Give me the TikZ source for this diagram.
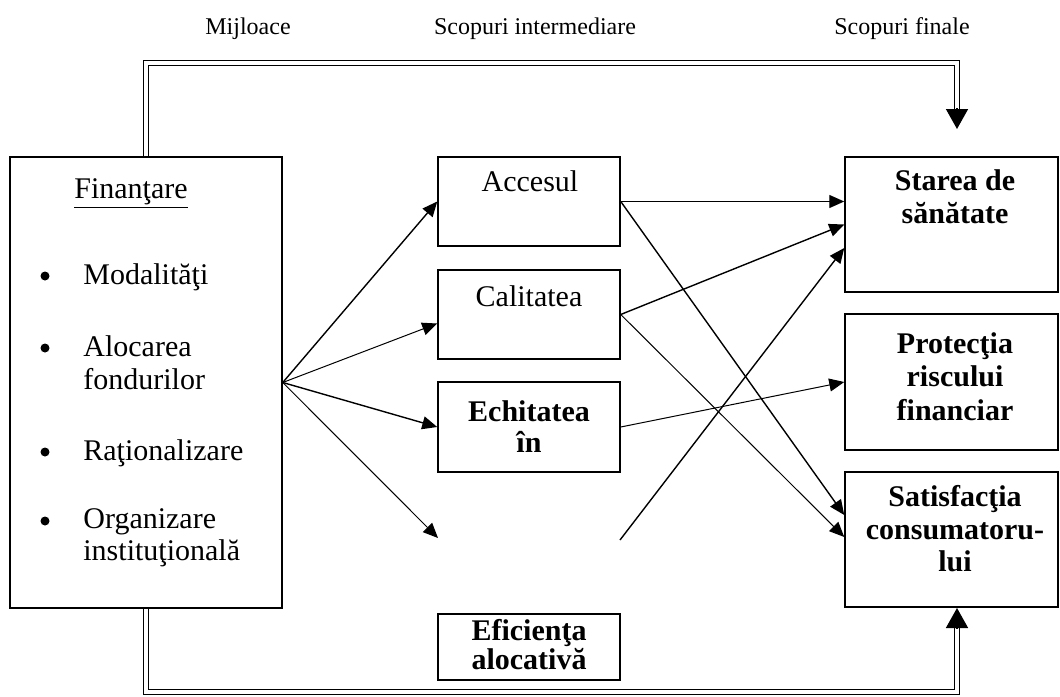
\documentclass[tikz,border=0pt]{standalone}
\usepackage{fontspec}
\setmainfont{Liberation Serif}
\usetikzlibrary{arrows.meta,calc}
\begin{document}
\begin{tikzpicture}[x=0.5pt,y=-0.5pt,line join=miter,
	font=\fontsize{15}{16.5}\selectfont,
	>={Triangle[length=7.5pt,width=6.5pt]},
	box/.style={draw,line width=0.75pt,inner sep=0pt},
	txt/.style={align=center,inner sep=0pt},
	head/.style={txt,anchor=base,font=\fontsize{12}{14}\selectfont},
	flow/.style={->,line width=0.7pt},
	dbl/.style={double,double distance=1.6pt,line width=0.75pt},
	bigtip/.style={-{Triangle[length=10pt,width=11pt]},line width=0.75pt}]
	\useasboundingbox (0,0) rectangle (1060,696);
	% titles
	\node[head] (tmij) at (248,34) {Mijloace};
	\node[head] (tint) at (535,34) {Scopuri intermediare};
	\node[head] (tfin) at (902,34) {Scopuri finale};
	% boxes
	\node[box,minimum width=136pt,minimum height=225.5pt] (fin) at (146,382.5) {};
	\node[box,minimum width=91pt,minimum height=44.5pt] (acc) at (529,201.5) {};
	\node[box,minimum width=91pt,minimum height=44.5pt] (cal) at (529,314.5) {};
	\node[box,minimum width=91pt,minimum height=45pt] (ech) at (529,427) {};
	\node[box,minimum width=91pt,minimum height=33pt] (efi) at (529,647) {};
	\node[box,minimum width=106.5pt,minimum height=67.5pt] (star) at (951.5,224.5) {};
	\node[box,minimum width=106.5pt,minimum height=68pt] (prot) at (951.5,382) {};
	\node[box,minimum width=106.5pt,minimum height=67.5pt] (sat) at (951.5,539.5) {};
	% texts
	\node[txt,anchor=base] (fintxt) at (131,198) {\underline{Finanţare}};
	\node[txt,anchor=north west,align=left] (b1) at (83,263) {Modalităţi};
	\node[txt,anchor=north west,align=left] (b2) at (83,335) {Alocarea\\fondurilor};
	\node[txt,anchor=north west,align=left] (b3) at (83,439) {Raţionalizare};
	\node[txt,anchor=north west,align=left,font=\fontsize{15}{16}\selectfont] (b4) at (83,508) {Organizare\\instituţională};
	\foreach \y in {276,348,452,521}{\fill (45,\y) circle (4.5);}
	\node[txt,anchor=north] (acctxt) at (530,170) {Accesul};
	\node[txt,anchor=north] (caltxt) at (529,285) {Calitatea};
	\node[txt,anchor=north,font=\fontsize{15}{15.5}\selectfont\bfseries] (echtxt) at (529,400) {Echitatea\\în};
	\node[txt,anchor=north,font=\fontsize{15}{14.5}\selectfont\bfseries] (efitxt) at (529,619) {Eficienţa\\alocativă};
	\node[txt,anchor=north,font=\fontsize{15}{16.5}\selectfont\bfseries] (startxt) at (955,169) {Starea de\\sănătate};
	\node[txt,anchor=north,font=\fontsize{15}{16.75}\selectfont\bfseries] (prottxt) at (955,332) {Protecţia\\riscului\\financiar};
	\node[txt,anchor=north,font=\fontsize{15}{16.25}\selectfont\bfseries] (sattxt) at (955,485) {Satisfacţia\\consumatoru-\\lui};
	% free ends
	\coordinate (efiin) at (438,538);
	\coordinate (efiout) at (620,540);
	\coordinate (topend) at (957,129);
	\coordinate (botend) at (957,608);
	% fan
	\draw[flow] (fin.east) -- (acc.west);
	\draw[flow,line width=0.5pt] (fin.east) -- ($(cal.west)+(0,9)$);
	\draw[flow] (fin.east) -- (ech.west);
	\draw[flow,line width=0.5pt] (fin.east) -- (efiin);
	% to final goals
	\draw[flow] (acc.east) -- (star.west |- acc.east);
	\draw[flow] (acc.east) -- ($(sat.west)+(0,-24.5)$);
	\draw[flow] (cal.east) -- (star.west);
	\draw[flow,line width=0.5pt] (cal.east) -- ($(sat.west)+(0,-2.5)$);
	\draw[flow,line width=0.5pt] (ech.east) -- (prot.west);
	\draw[flow] (efiout) -- ($(star.west)+(0,23.5)$);
	% double connectors
	\draw[dbl] (fin.north) |- (957,63) -- (957,110);
	\draw[bigtip] (957,108) -- (topend);
	\draw[dbl] (fin.south) |- (957,692) -- (957,626);
	\draw[bigtip] (957,628) -- (botend);
\end{tikzpicture}
\end{document}
